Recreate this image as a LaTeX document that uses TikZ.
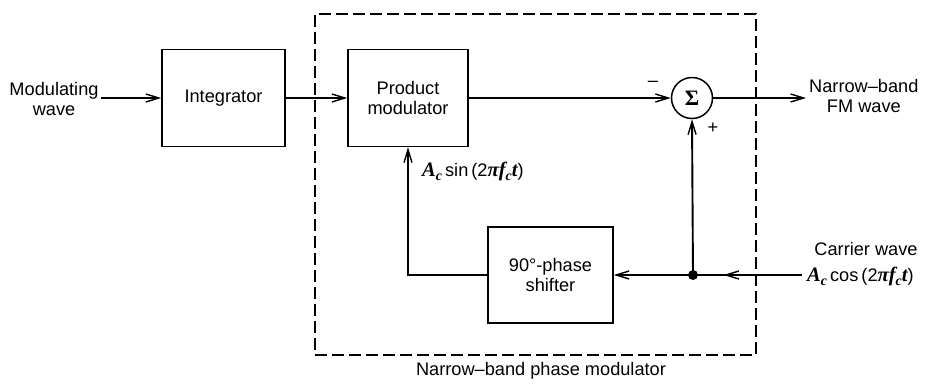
\documentclass[tikz,border=0pt]{standalone}
\usepackage{fontspec}
\setmainfont{Liberation Sans}
\newfontfamily\serifv{Liberation Serif}
\newcommand\mvar[1]{{\serifv\itshape\bfseries\fontsize{20.5}{20}\selectfont #1}}
\newcommand\msub[1]{\raisebox{-4pt}{\serifv\itshape\bfseries\fontsize{14}{14}\selectfont #1}}
\usetikzlibrary{arrows.meta,decorations.markings}
\begin{document}
\begin{tikzpicture}[x=1pt,y=-1pt,
  font=\fontsize{18.2}{19.5}\selectfont,
  blk/.style={draw, line width=1.5pt, inner sep=0pt, align=center},
  wire/.style={line width=1.9pt},
  tip/.tip={Straight Barb[length=13pt,width=8pt,line width=1.4pt]},
  arr/.style={wire, -tip},
  lbl/.style={align=center, inner sep=0pt}]
\useasboundingbox (0,0) rectangle (929,389);

% dashed enclosure
\node[draw, dash pattern=on 12pt off 5pt, line width=1.6pt, minimum width=441pt, minimum height=341pt, inner sep=0pt] (pm) at (535.5,184.5) {};

% blocks
\node[blk, minimum width=123pt, minimum height=97pt] (integ) at (223.5,98) {Integrator};
\node[blk, minimum width=120pt, minimum height=97pt] (prod) at (408,98) {Product\\modulator};
\node[blk, minimum width=125pt, minimum height=96pt] (shift) at (550.5,275) {90°-phase\\shifter};
\node[draw, circle, line width=1.5pt, minimum size=41pt, inner sep=0pt] (sum) at (692,98) {\serifv\bfseries\fontsize{22}{22}\selectfont Σ};
\node[circle, fill, minimum size=10pt, inner sep=0pt] (jn) at (693,275) {};

% texts
\node[lbl] (modw) at (54,99) {Modulating\\wave};
\node[lbl, anchor=west] (fm) at (809,96) {Narrow--band\\FM wave};
\node[lbl] (carr) at (866,249) {Carrier wave};
\node[lbl, anchor=west] (cmath) at (807,276) {\mvar{A}\msub{c}\,cos\,(2\mvar{π}\mvar{f}\msub{c}\mvar{t})};
\node[lbl, anchor=west] (smath) at (422,171) {\mvar{A}\msub{c}\,sin\,(2\mvar{π}\mvar{f}\msub{c}\mvar{t})};
\node[lbl] (minus) at (653,84) {--};
\node[lbl] (plus) at (713,128) {+};
\node[lbl] (cap) at (541,371) {Narrow--band phase modulator};

\coordinate (cin) at (802,275);

% connectors
\draw[arr] ([xshift=2pt]modw.east |- integ.west) -- (integ.west);
\draw[arr] (integ.east) -- (prod.west);
\draw[arr] (prod.east) -- (sum.west);
\draw[arr] (sum.east) -- ([xshift=-3pt]fm.west |- sum.east);
\draw[arr] (jn.center) -- (sum.south);
\draw[wire, postaction={decorate}, decoration={markings, mark=at position 0.72 with {\arrow{tip}}}] (cin) -- (jn.center);
\draw[arr] (jn.center) -- (shift.east);
\draw[arr] (shift.west) -| (prod.south);
\end{tikzpicture}
\end{document}
